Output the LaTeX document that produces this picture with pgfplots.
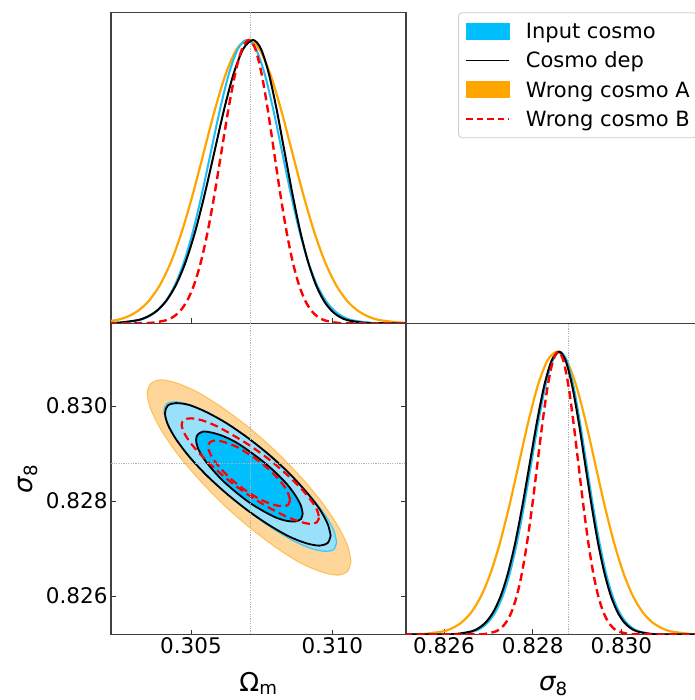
\documentclass[border=0pt]{standalone}
\usepackage{fontspec}
\setmainfont{DejaVu Sans}
\usepackage{pgfplots}
\pgfplotsset{compat=1.18}
\definecolor{cyanIn}{RGB}{0,191,255}
\definecolor{cyanOut}{RGB}{153,225,250}
\definecolor{cyanEdge}{RGB}{60,200,245}
\definecolor{cyanLine}{RGB}{30,190,245}
\definecolor{orangeFill}{RGB}{255,214,153}
\definecolor{orangeEdge}{RGB}{255,190,80}
\definecolor{orangeLine}{RGB}{255,165,0}
\tikzset{labelfont/.style={font=\fontsize{26}{30}\selectfont}}
\pgfplotsset{
  corner/.style={scale only axis, anchor=south west,
    axis line style={black!75, line width=1.1pt},
    tick style={black!80, line width=0.9pt}, major tick length=5pt, tick align=inside,
    tick label style={font=\fontsize{21.5}{25}\selectfont},
    /pgf/number format/assume math mode=true,
    /pgf/number format/fixed, /pgf/number format/precision=3,
    /pgf/number format/fixed zerofill, scaled ticks=false},
  refline/.style={black!30, line width=0.6pt, dash pattern=on 1.2pt off 1.2pt},
  redd/.style={red, line width=2.4pt, dash pattern=on 8pt off 4.5pt},
}
\begin{document}
\begin{tikzpicture}
% ---------------- top-left: Omega_m 1D ----------------
\begin{axis}[corner, at={(111pt,376.7pt)}, width=295pt, height=311pt,
  xmin=0.30217, xmax=0.312606, ymin=0, ymax=1.0978,
  xtick={0.305,0.310}, xticklabels={}, xtick pos=left, ytick=\empty,
  legend cell align=left,
  legend style={at={(axis description cs:1.1763,1)}, anchor=north west,
    draw=black!20, line width=0.8pt, rounded corners=4pt, fill=white,
    font=\fontsize{21}{24}\selectfont, inner xsep=7pt, inner ysep=9pt,
    row sep=9.7pt, column sep=16pt,
    nodes={inner sep=0pt, text height=17pt, text depth=2.5pt}}]
\addlegendimage{legend image code/.code={\fill[cyanIn, sharp corners] (0pt,-8pt) rectangle (43pt,8pt);}}
\addlegendentry{Input cosmo}
\addlegendimage{legend image code/.code={\draw[black, line width=1.3pt, sharp corners] (0pt,0pt) -- (43pt,0pt);}}
\addlegendentry{Cosmo dep}
\addlegendimage{legend image code/.code={\fill[orangeLine, sharp corners] (0pt,-8pt) rectangle (43pt,8pt);}}
\addlegendentry{Wrong cosmo A}
\addlegendimage{legend image code/.code={\draw[red, line width=1.5pt, sharp corners, dash pattern=on 6.5pt off 4pt] (0pt,0pt) -- (43pt,0pt);}}
\addlegendentry{Wrong cosmo B}
\addplot[forget plot, refline] coordinates {(0.3071,0) (0.3071,1.2)};
\addplot[forget plot, orangeLine, line width=2.2pt, smooth] coordinates {
(0.300788,0.00034) (0.301566,0.00219) (0.302345,0.01111) (0.302734,0.02279) (0.303123,0.04394) (0.303513,0.07956) (0.303902,0.13534) (0.304291,0.21627) (0.304680,0.32465) (0.305070,0.45783) (0.305459,0.60653) (0.305848,0.75484) (0.306237,0.88250) (0.306627,0.96923) (0.307016,1) (0.307405,0.96923) (0.307795,0.88250) (0.308184,0.75484) (0.308573,0.60653) (0.308962,0.45783) (0.309352,0.32465) (0.309741,0.21627) (0.310130,0.13534) (0.310519,0.07956) (0.310909,0.04394) (0.311298,0.02279) (0.311687,0.01111) (0.312466,0.00219) (0.313244,0.00034)};
\addplot[forget plot, cyanLine, line width=2pt, smooth] coordinates {
(0.301885,0.00034) (0.302522,0.00219) (0.303159,0.01111) (0.303477,0.02279) (0.303796,0.04394) (0.304114,0.07956) (0.304433,0.13534) (0.304751,0.21627) (0.305070,0.32465) (0.305388,0.45783) (0.305707,0.60653) (0.306025,0.75484) (0.306344,0.88250) (0.306662,0.96923) (0.306981,1) (0.307291,0.96923) (0.307600,0.88250) (0.307910,0.75484) (0.308219,0.60653) (0.308529,0.45783) (0.308838,0.32465) (0.309148,0.21627) (0.309457,0.13534) (0.309767,0.07956) (0.310076,0.04394) (0.310386,0.02279) (0.310695,0.01111) (0.311314,0.00219) (0.311933,0.00034) (0.3127,0)};
\addplot[forget plot, black, line width=2pt, smooth] coordinates {
(0.301745,0.00034) (0.302426,0.00219) (0.303107,0.01111) (0.303447,0.02279) (0.303788,0.04394) (0.304128,0.07956) (0.304469,0.13534) (0.304809,0.21627) (0.305150,0.32465) (0.305490,0.45783) (0.305831,0.60653) (0.306171,0.75484) (0.306512,0.88250) (0.306852,0.96923) (0.307193,1) (0.307472,0.96923) (0.307750,0.88250) (0.308029,0.75484) (0.308307,0.60653) (0.308586,0.45783) (0.308864,0.32465) (0.309143,0.21627) (0.309421,0.13534) (0.309700,0.07956) (0.309978,0.04394) (0.310257,0.02279) (0.310535,0.01111) (0.311092,0.00219) (0.311649,0.00034) (0.3127,0)};
\addplot[forget plot, redd, smooth] coordinates {
(0.3021,0) (0.303160,0.00034) (0.303646,0.00219) (0.304133,0.01111) (0.304376,0.02279) (0.304619,0.04394) (0.304863,0.07956) (0.305106,0.13534) (0.305349,0.21627) (0.305592,0.32465) (0.305836,0.45783) (0.306079,0.60653) (0.306322,0.75484) (0.306565,0.88250) (0.306809,0.96923) (0.307052,1) (0.307273,0.96923) (0.307494,0.88250) (0.307715,0.75484) (0.307936,0.60653) (0.308157,0.45783) (0.308378,0.32465) (0.308599,0.21627) (0.308820,0.13534) (0.309041,0.07956) (0.309262,0.04394) (0.309483,0.02279) (0.309704,0.01111) (0.310146,0.00219) (0.310588,0.00034) (0.3127,0)};
\end{axis}
% ---------------- bottom-left: 2D contours ----------------
\begin{axis}[corner, at={(111pt,65.5pt)}, width=295pt, height=311.2pt,
  xmin=0.30217, xmax=0.312606, ymin=0.82519, ymax=0.83174,
  xtick={0.305,0.310}, ytick={0.826,0.828,0.830}, xtick pos=left, ytick pos=both, yticklabel pos=left,
  xlabel={Ω\textsubscript{m}}, ylabel={{\itshape σ}\textsubscript{8}},
  every axis x label/.style={at={(axis description cs:0.5,-0.182)}, anchor=base, labelfont},
  every axis y label/.style={at={(axis description cs:-0.2644,0.5)}, rotate=90, anchor=base, labelfont}]
\addplot[fill=orangeFill, draw=orangeEdge, line width=1pt, smooth] coordinates {
(0.31066,0.82673) (0.31054,0.82652) (0.31018,0.82644) (0.30961,0.82651) (0.30886,0.82670) (0.30799,0.82703) (0.30706,0.82745) (0.30612,0.82794) (0.30526,0.82847) (0.30451,0.82900) (0.30394,0.82950) (0.30358,0.82993) (0.30345,0.83026) (0.30358,0.83047) (0.30394,0.83055) (0.30451,0.83048) (0.30526,0.83028) (0.30612,0.82996) (0.30706,0.82954) (0.30799,0.82905) (0.30886,0.82852) (0.30961,0.82799) (0.31018,0.82749) (0.31054,0.82706) (0.31066,0.82673)} -- cycle;
\addplot[fill=cyanOut, draw=cyanEdge, line width=1.2pt, smooth] coordinates {
(0.31015,0.82713) (0.31005,0.82698) (0.30975,0.82694) (0.30926,0.82700) (0.30863,0.82716) (0.30789,0.82742) (0.30710,0.82775) (0.30631,0.82813) (0.30557,0.82854) (0.30494,0.82895) (0.30445,0.82933) (0.30415,0.82965) (0.30404,0.82990) (0.30415,0.83005) (0.30445,0.83009) (0.30494,0.83003) (0.30557,0.82987) (0.30631,0.82961) (0.30710,0.82928) (0.30789,0.82889) (0.30863,0.82848) (0.30926,0.82808) (0.30975,0.82770) (0.31005,0.82738) (0.31015,0.82713)} -- cycle;
\addplot[fill=cyanIn, draw=none, smooth] coordinates {
(0.30895,0.82773) (0.30889,0.82762) (0.30870,0.82757) (0.30840,0.82758) (0.30801,0.82765) (0.30755,0.82779) (0.30706,0.82797) (0.30658,0.82819) (0.30612,0.82843) (0.30573,0.82868) (0.30543,0.82891) (0.30524,0.82912) (0.30518,0.82929) (0.30524,0.82940) (0.30543,0.82946) (0.30573,0.82944) (0.30612,0.82937) (0.30658,0.82924) (0.30706,0.82905) (0.30755,0.82883) (0.30801,0.82859) (0.30840,0.82835) (0.30870,0.82811) (0.30889,0.82790) (0.30895,0.82773)} -- cycle;
\addplot[black, line width=1.8pt, smooth] coordinates {
(0.30994,0.82727) (0.30984,0.82712) (0.30955,0.82706) (0.30908,0.82711) (0.30848,0.82725) (0.30777,0.82749) (0.30701,0.82780) (0.30625,0.82816) (0.30555,0.82854) (0.30494,0.82893) (0.30447,0.82930) (0.30418,0.82961) (0.30408,0.82985) (0.30418,0.83001) (0.30447,0.83006) (0.30494,0.83002) (0.30555,0.82987) (0.30625,0.82964) (0.30701,0.82933) (0.30777,0.82897) (0.30848,0.82858) (0.30908,0.82819) (0.30955,0.82783) (0.30984,0.82751) (0.30994,0.82727)} -- cycle;
\addplot[black, line width=1.8pt, smooth] coordinates {
(0.30895,0.82773) (0.30889,0.82762) (0.30870,0.82757) (0.30840,0.82758) (0.30801,0.82765) (0.30755,0.82779) (0.30706,0.82797) (0.30658,0.82819) (0.30612,0.82843) (0.30573,0.82868) (0.30543,0.82891) (0.30524,0.82912) (0.30518,0.82929) (0.30524,0.82940) (0.30543,0.82946) (0.30573,0.82944) (0.30612,0.82937) (0.30658,0.82924) (0.30706,0.82905) (0.30755,0.82883) (0.30801,0.82859) (0.30840,0.82835) (0.30870,0.82811) (0.30889,0.82790) (0.30895,0.82773)} -- cycle;
\addplot[redd, line width=2.2pt, smooth] coordinates {
(0.30953,0.82765) (0.30945,0.82755) (0.30920,0.82752) (0.30882,0.82757) (0.30831,0.82769) (0.30773,0.82787) (0.30710,0.82810) (0.30647,0.82837) (0.30589,0.82866) (0.30538,0.82895) (0.30500,0.82921) (0.30475,0.82944) (0.30467,0.82961) (0.30475,0.82971) (0.30500,0.82974) (0.30538,0.82970) (0.30589,0.82958) (0.30647,0.82939) (0.30710,0.82916) (0.30773,0.82889) (0.30831,0.82860) (0.30882,0.82831) (0.30920,0.82805) (0.30945,0.82782) (0.30953,0.82765)} -- cycle;
\addplot[redd, line width=2.2pt, smooth] coordinates {
(0.30850,0.82802) (0.30845,0.82793) (0.30831,0.82789) (0.30808,0.82790) (0.30778,0.82795) (0.30743,0.82804) (0.30706,0.82817) (0.30668,0.82833) (0.30633,0.82851) (0.30604,0.82869) (0.30581,0.82886) (0.30566,0.82902) (0.30561,0.82914) (0.30566,0.82923) (0.30581,0.82927) (0.30604,0.82926) (0.30633,0.82921) (0.30668,0.82912) (0.30706,0.82898) (0.30743,0.82883) (0.30778,0.82865) (0.30808,0.82847) (0.30831,0.82830) (0.30845,0.82814) (0.30850,0.82802)} -- cycle;
\addplot[refline] coordinates {(0.3071,0.8251) (0.3071,0.8318)};
\addplot[refline] coordinates {(0.3021,0.8288) (0.3127,0.8288)};
\end{axis}
% ---------------- bottom-right: sigma_8 1D ----------------
\begin{axis}[corner, at={(406pt,65.5pt)}, width=295pt, height=311.2pt,
  xmin=0.825143, xmax=0.831795, ymin=0, ymax=1.1005,
  xtick={0.826,0.828,0.830}, xtick pos=left, ytick=\empty,
  xlabel={{\itshape σ}\textsubscript{8}},
  every axis x label/.style={at={(axis description cs:0.5,-0.18)}, anchor=base, labelfont}]
\addplot[refline] coordinates {(0.8288,0) (0.8288,1.2)};
\addplot[orangeLine, line width=2.2pt, smooth] coordinates {
(0.825120,0.00034) (0.825548,0.00219) (0.825977,0.01111) (0.826191,0.02279) (0.826405,0.04394) (0.826620,0.07956) (0.826834,0.13534) (0.827048,0.21627) (0.827262,0.32465) (0.827477,0.45783) (0.827691,0.60653) (0.827905,0.75484) (0.828119,0.88250) (0.828334,0.96923) (0.828548,1) (0.828762,0.96923) (0.828977,0.88250) (0.829191,0.75484) (0.829405,0.60653) (0.829619,0.45783) (0.829834,0.32465) (0.830048,0.21627) (0.830262,0.13534) (0.830476,0.07956) (0.830691,0.04394) (0.830905,0.02279) (0.831119,0.01111) (0.831548,0.00219) (0.831976,0.00034)};
\addplot[cyanLine, line width=2pt, smooth] coordinates {
(0.8251,0) (0.826028,0.00034) (0.826351,0.00219) (0.826675,0.01111) (0.826837,0.02279) (0.826998,0.04394) (0.827160,0.07956) (0.827322,0.13534) (0.827484,0.21627) (0.827645,0.32465) (0.827807,0.45783) (0.827969,0.60653) (0.828131,0.75484) (0.828292,0.88250) (0.828454,0.96923) (0.828616,1) (0.828764,0.96923) (0.828913,0.88250) (0.829061,0.75484) (0.829209,0.60653) (0.829357,0.45783) (0.829506,0.32465) (0.829654,0.21627) (0.829802,0.13534) (0.829950,0.07956) (0.830099,0.04394) (0.830247,0.02279) (0.830395,0.01111) (0.830692,0.00219) (0.830988,0.00034) (0.8319,0)};
\addplot[black, line width=2pt, smooth] coordinates {
(0.8251,0) (0.825961,0.00034) (0.826290,0.00219) (0.826619,0.01111) (0.826783,0.02279) (0.826948,0.04394) (0.827112,0.07956) (0.827277,0.13534) (0.827441,0.21627) (0.827606,0.32465) (0.827770,0.45783) (0.827935,0.60653) (0.828099,0.75484) (0.828264,0.88250) (0.828428,0.96923) (0.828593,1) (0.828740,0.96923) (0.828886,0.88250) (0.829033,0.75484) (0.829179,0.60653) (0.829326,0.45783) (0.829472,0.32465) (0.829619,0.21627) (0.829765,0.13534) (0.829912,0.07956) (0.830058,0.04394) (0.830205,0.02279) (0.830351,0.01111) (0.830644,0.00219) (0.830937,0.00034) (0.8319,0)};
\addplot[redd, smooth] coordinates {
(0.8251,0) (0.826701,0.00034) (0.826935,0.00219) (0.827170,0.01111) (0.827287,0.02279) (0.827404,0.04394) (0.827522,0.07956) (0.827639,0.13534) (0.827756,0.21627) (0.827873,0.32465) (0.827991,0.45783) (0.828108,0.60653) (0.828225,0.75484) (0.828342,0.88250) (0.828460,0.96923) (0.828577,1) (0.828690,0.96923) (0.828803,0.88250) (0.828915,0.75484) (0.829028,0.60653) (0.829141,0.45783) (0.829254,0.32465) (0.829366,0.21627) (0.829479,0.13534) (0.829592,0.07956) (0.829705,0.04394) (0.829817,0.02279) (0.829930,0.01111) (0.830156,0.00219) (0.830381,0.00034) (0.8319,0)};
\end{axis}
\pgfresetboundingbox
\useasboundingbox (0pt,0pt) rectangle (694pt,700pt);
\end{tikzpicture}
\end{document}
